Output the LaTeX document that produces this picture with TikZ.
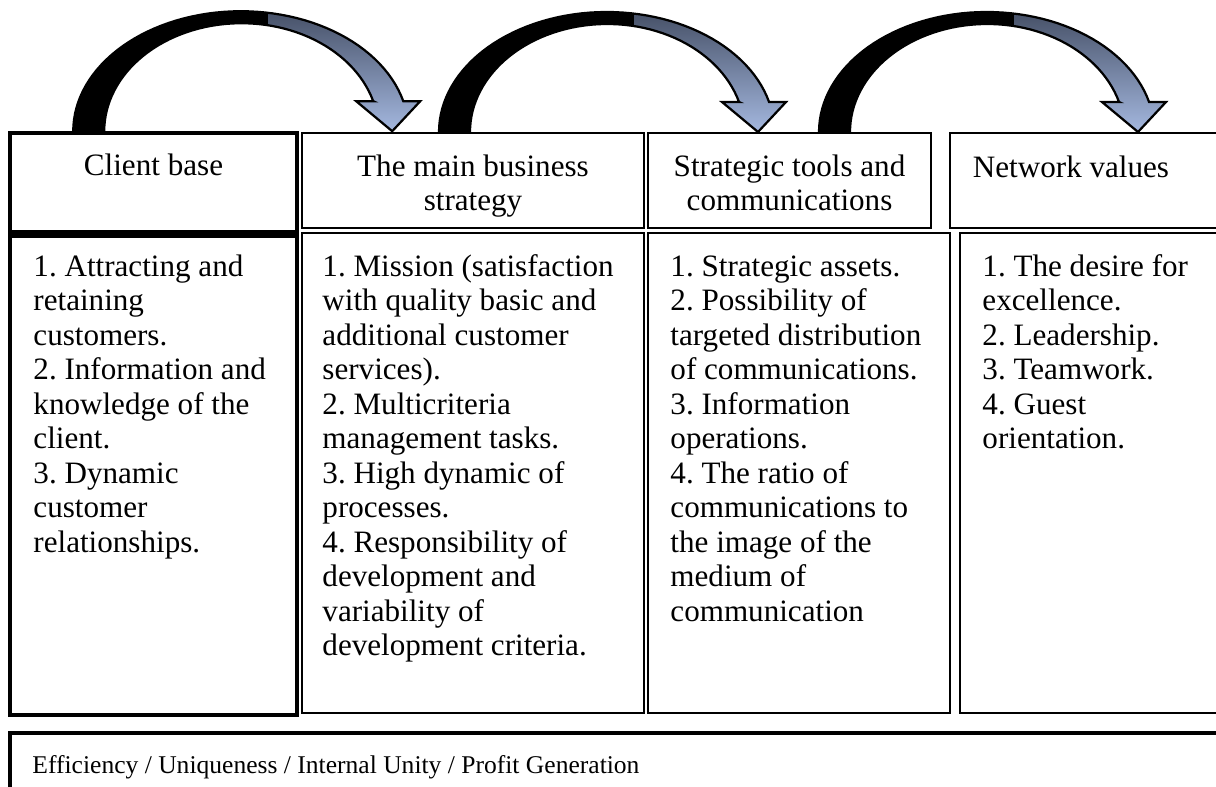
\documentclass[tikz,border=0pt]{standalone}
\usepackage{fontspec}
\setmainfont{Liberation Serif}
\usetikzlibrary{fit,calc}
\frenchspacing

\definecolor{bandtop}{RGB}{66,76,98}
\definecolor{bandhead}{RGB}{168,188,228}

% outline of one bent block arrow, tail corner at the origin
\newcommand{\arrowband}{(0,0)
  -- plot[domain=180:14.48,samples=60] ({167.7+167.7*cos(\x)},{-120*sin(\x)})
  -- (347,-30) -- (319,0) -- (283,-30) -- (300,-30)
  -- plot[domain=16.13:180,samples=60] ({168.2+137.2*cos(\x)},{-108*sin(\x)})
  -- cycle}

\tikzset{
  cell/.style={draw, line width=0.9pt, inner sep=0pt},
  thickcell/.style={cell, line width=1.6pt},
  head/.style={font=\fontsize{14}{15.5}\selectfont, align=center, anchor=north, inner sep=0pt},
  items/.style={font=\fontsize{14}{15.5}\selectfont, align=left, anchor=north west, inner sep=0pt},
  bentarrow/.pic={
    \begin{scope}
      \clip \arrowband;
      \shade[top color=bandtop, bottom color=bandhead] (-5,-125) rectangle (355,5);
      % dark back face of the band
      \fill[black] (-5,-125) rectangle (195,5);
    \end{scope}
    \draw[line width=1pt] \arrowband;
  }
}

\begin{document}
\begin{tikzpicture}[x=0.45pt,y=-0.45pt]
\useasboundingbox (0,0) rectangle (1216,787);
\clip (0,0) rectangle (1216,787);

% header cells
\node[thickcell, fit={(10,133) (297,232)}] (clienthead) {};
\node[cell, fit={(302,133) (644,228)}] (mainhead) {};
\node[cell, fit={(648,133) (931,228)}] (toolshead) {};
\node[cell, fit={(950,133) (1240,228)}] (valueshead) {};

\node[head] (clientname) at ($(clienthead.north)+(0,20)$) {\strut Client base};
\node[head] (mainname) at ($(mainhead.north)+(0,20)$) {\strut The main business\\strategy};
\node[head] (toolsname) at ($(toolshead.north)+(0,20)$) {\strut Strategic tools and\\communications};
\node[head] (valuesname) at (1071,153) {\strut Network values};

% body cells
\node[thickcell, fit={(10,236) (297,715)}] (clientbody) {};
\node[cell, fit={(302,233) (644,713)}] (mainbody) {};
\node[cell, fit={(648,233) (950,713)}] (toolsbody) {};
\node[cell, fit={(960,233) (1240,713)}] (valuesbody) {};

\node[items] (clientlist) at (33,252) {\strut 1. Attracting and\\retaining\\customers.\\2. Information and\\knowledge of the\\client.\\3. Dynamic\\customer\\relationships.};
\node[items] (mainlist) at (322,252) {\strut 1. Mission (satisfaction\\with quality basic and\\additional customer\\services).\\2. Multicriteria\\management tasks.\\3. High dynamic of\\processes.\\4. Responsibility of\\development and\\variability of\\development criteria.};
\node[items] (toolslist) at (670,252) {\strut 1. Strategic assets.\\2. Possibility of\\targeted distribution\\of communications.\\3. Information\\operations.\\4. The ratio of\\communications to\\the image of the\\medium of\\communication};
\node[items] (valueslist) at (982,252) {\strut 1. The desire for\\excellence.\\2. Leadership.\\3. Teamwork.\\4. Guest\\orientation.};

% summary strip
\node[cell, line width=1.8pt, fit={(10,733) (1240,810)}] (summary) {};
\node[items, font=\fontsize{11.5}{13.2}\selectfont] (summarytext) at (32,753) {\strut Efficiency / Uniqueness / Internal Unity / Profit Generation};

% bent arrows from one heading to the next
\pic at ($(clienthead.north west)+(65,0)$) {bentarrow};
\pic at ($(mainhead.north west)+(138,0)$) {bentarrow};
\pic at ($(toolshead.north west)+(172,0)$) {bentarrow};
\end{tikzpicture}
\end{document}
